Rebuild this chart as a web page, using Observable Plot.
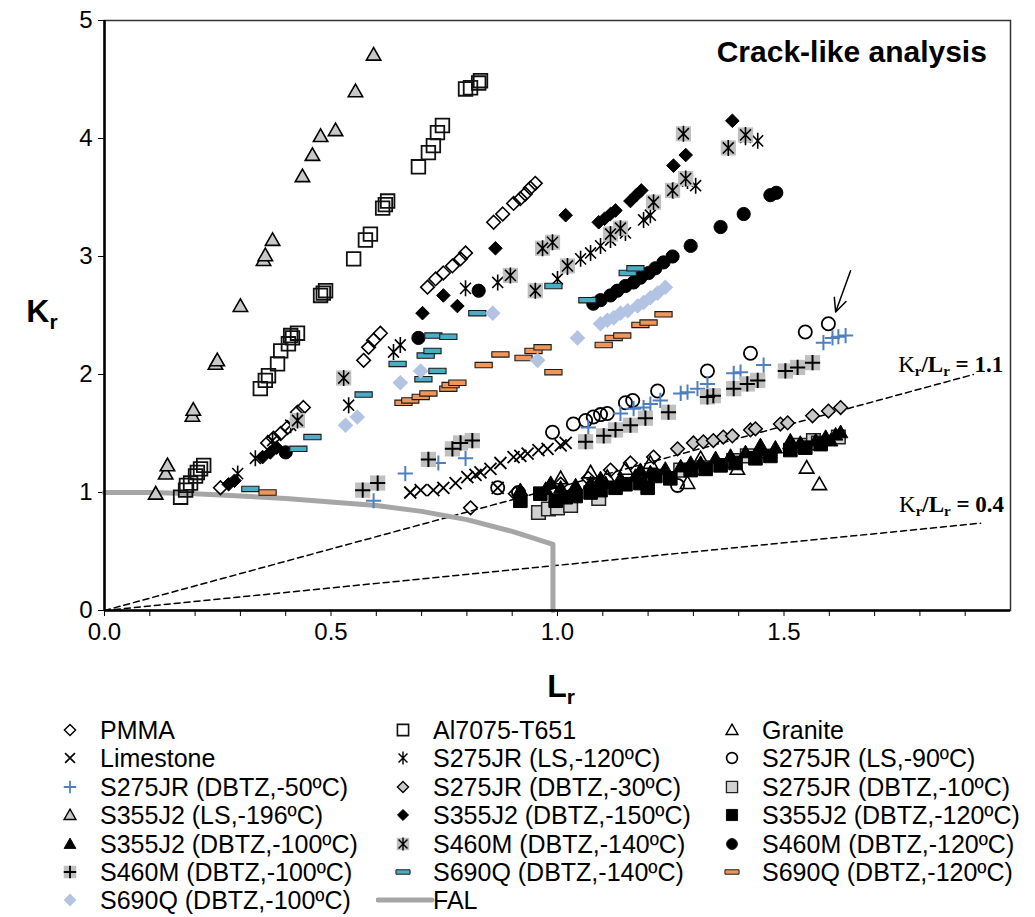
<!DOCTYPE html>
<html><head><meta charset="utf-8">
<script src="https://cdn.jsdelivr.net/npm/d3@7"></script>
<script src="https://cdn.jsdelivr.net/npm/@observablehq/plot@0.6"></script>
<style>
body{margin:0;background:#fff;font-family:"Liberation Sans",Arial,sans-serif;}
#wrap{position:relative;width:1035px;height:917px;overflow:hidden;}
#legend{position:absolute;left:0;top:710px;width:1035px;height:207px;}
.li{position:absolute;font-size:25px;line-height:28px;white-space:nowrap;color:#000;}
.ic{position:absolute;}
</style></head><body><div id="wrap"><div id="chart"></div><div id="legend"></div></div>
<script>
// ---------------- data (L_r, K_r) ----------------
const PMMA = [[0.256,1.04],[0.360,1.42],[0.373,1.46],[0.389,1.50],[0.404,1.55],[0.426,1.68],[0.439,1.72],[0.572,2.12],[0.583,2.23],[0.594,2.29],[0.609,2.35],[0.713,2.74],[0.731,2.81],[0.748,2.86],[0.768,2.92],[0.786,2.98],[0.797,3.03],[0.859,3.29],[0.879,3.36],[0.903,3.45],[0.918,3.49],[0.929,3.53],[0.940,3.58],[0.951,3.62],[0.808,0.87],[0.907,0.99],[1.007,1.07],[1.068,1.12],[1.117,1.19],[1.161,1.25],[1.212,1.30]];
const AL7075 = [[0.168,0.96],[0.179,1.02],[0.190,1.08],[0.201,1.14],[0.212,1.20],[0.219,1.23],[0.181,1.06],[0.205,1.17],[0.344,1.88],[0.355,1.95],[0.362,1.99],[0.382,2.09],[0.389,2.20],[0.406,2.26],[0.415,2.31],[0.426,2.35],[0.411,2.33],[0.477,2.67],[0.483,2.69],[0.488,2.71],[0.550,2.98],[0.576,3.14],[0.587,3.19],[0.614,3.41],[0.625,3.47],[0.620,3.44],[0.693,3.76],[0.715,3.88],[0.726,3.94],[0.735,4.05],[0.746,4.11],[0.797,4.42],[0.808,4.43],[0.826,4.47],[0.830,4.49]];
const GRANITE = [[1.007,1.12],[1.073,1.17],[1.110,1.13],[1.150,1.20],[1.205,1.25],[1.287,1.08],[1.316,1.29],[1.397,1.20],[1.448,1.34],[1.514,1.42],[1.550,1.21],[1.578,1.07]];
const LIMESTONE = [[0.675,1.00],[0.698,1.02],[0.726,1.02],[0.748,1.04],[0.775,1.08],[0.801,1.13],[0.819,1.15],[0.830,1.17],[0.852,1.20],[0.868,1.04],[0.874,1.25],[0.903,1.30],[0.918,1.31],[0.934,1.33],[0.958,1.36],[0.978,1.37],[1.007,1.40],[1.018,1.42]];
const S275_LS120 = [[0.294,1.16],[0.333,1.29],[0.371,1.44],[0.411,1.57],[0.539,1.74],[0.638,2.19],[0.653,2.25],[0.797,2.73],[0.868,2.78],[1.000,2.81],[1.022,2.91],[1.051,2.98],[1.073,3.03],[1.095,3.09],[1.117,3.14],[1.150,3.20],[1.190,3.31],[1.205,3.35],[1.256,3.56],[1.287,3.64],[1.305,3.60],[1.415,4.01],[1.442,3.98]];
const S275_LS90 = [[0.868,1.04],[0.914,1.00],[0.989,1.51],[1.035,1.58],[1.062,1.61],[1.079,1.64],[1.091,1.00],[1.095,1.66],[1.110,1.67],[1.150,1.76],[1.166,1.78],[1.221,1.86],[1.265,1.06],[1.331,2.03],[1.426,2.18],[1.547,2.36],[1.598,2.43]];
const S275_D50 = [[0.594,0.93],[0.664,1.16],[0.737,1.25],[0.797,1.29],[1.068,1.55],[1.139,1.67],[1.168,1.71],[1.190,1.72],[1.205,1.75],[1.227,1.78],[1.272,1.84],[1.287,1.85],[1.309,1.88],[1.331,1.92],[1.389,2.01],[1.404,2.02],[1.455,2.08],[1.587,2.27],[1.607,2.31],[1.620,2.32],[1.636,2.33]];
const S275_D30 = [[1.265,1.37],[1.300,1.42],[1.322,1.43],[1.344,1.44],[1.366,1.47],[1.386,1.48],[1.426,1.53],[1.437,1.54],[1.492,1.58],[1.508,1.59],[1.563,1.65],[1.598,1.69],[1.625,1.72]];
const S275_D10 = [[0.958,0.83],[0.980,0.86],[1.000,0.87],[1.029,0.89],[1.091,0.95],[1.272,1.19],[1.320,1.21],[1.389,1.27],[1.419,1.31],[1.536,1.40],[1.565,1.44],[1.576,1.42],[1.620,1.47]];
const S355_LS196 = [[0.113,0.99],[0.135,1.16],[0.139,1.23],[0.194,1.65],[0.196,1.70],[0.245,2.09],[0.249,2.12],[0.300,2.58],[0.351,2.97],[0.355,3.01],[0.371,3.14],[0.437,3.68],[0.459,3.86],[0.477,4.02],[0.510,4.07],[0.554,4.40],[0.594,4.71]];
const S355_D150 = [[0.274,1.07],[0.287,1.10],[0.349,1.30],[0.366,1.34],[0.380,1.38],[0.702,2.52],[0.748,2.67],[0.779,2.58],[0.863,3.07],[1.018,3.35],[1.091,3.29],[1.104,3.32],[1.117,3.36],[1.128,3.39],[1.161,3.47],[1.174,3.52],[1.185,3.56],[1.256,3.77],[1.283,3.86],[1.386,4.15]];
const S355_D120 = [[0.918,0.93],[0.962,0.99],[0.996,0.93],[1.018,0.96],[1.040,0.97],[1.073,1.00],[1.095,1.02],[1.128,1.04],[1.150,1.07],[1.183,1.08],[1.199,1.04],[1.216,1.14],[1.249,1.12],[1.294,1.19],[1.327,1.20],[1.360,1.23],[1.393,1.25],[1.437,1.29],[1.470,1.31],[1.514,1.36],[1.547,1.38],[1.581,1.41]];
const S355_D100 = [[0.918,1.02],[0.974,1.03],[0.985,1.08],[1.007,1.04],[1.040,1.06],[1.073,1.08],[1.095,1.12],[1.106,1.08],[1.139,1.12],[1.172,1.14],[1.183,1.19],[1.205,1.17],[1.238,1.20],[1.272,1.22],[1.294,1.25],[1.316,1.25],[1.349,1.29],[1.382,1.31],[1.415,1.34],[1.448,1.36],[1.448,1.40],[1.481,1.38],[1.514,1.40],[1.514,1.44],[1.536,1.42],[1.570,1.44],[1.592,1.47],[1.603,1.44],[1.614,1.49],[1.625,1.51]];
const S460_D140 = [[0.426,1.61],[0.528,1.97],[0.896,2.84],[0.951,2.71],[0.967,3.07],[0.989,3.12],[1.022,2.92],[1.117,3.19],[1.139,3.24],[1.212,3.46],[1.254,3.56],[1.283,3.66],[1.278,4.04],[1.377,3.92],[1.415,4.03]];
const S460_D120 = [[0.400,1.34],[0.693,2.31],[0.826,2.71],[1.079,2.60],[1.095,2.63],[1.117,2.67],[1.132,2.71],[1.150,2.75],[1.168,2.78],[1.183,2.82],[1.201,2.86],[1.216,2.90],[1.234,2.95],[1.254,3.00],[1.294,3.09],[1.360,3.25],[1.411,3.36],[1.470,3.52],[1.483,3.54]];
const S460_D100 = [[0.570,1.02],[0.603,1.08],[0.715,1.28],[0.768,1.37],[0.786,1.42],[0.812,1.44],[1.062,1.43],[1.102,1.48],[1.128,1.53],[1.161,1.57],[1.194,1.63],[1.245,1.68],[1.331,1.81],[1.344,1.82],[1.389,1.88],[1.419,1.92],[1.442,1.95],[1.503,2.03],[1.530,2.06],[1.563,2.10]];
const S690_D140 = [[0.322,1.03],[0.428,1.37],[0.459,1.47],[0.572,1.83],[0.647,2.09],[0.704,1.96],[0.709,2.16],[0.724,2.20],[0.735,2.03],[0.726,2.33],[0.759,2.32],[0.823,2.52],[0.991,2.75],[1.066,2.63],[1.155,2.86],[1.172,2.90]];
const S690_D120 = [[0.360,1.00],[0.660,1.76],[0.675,1.78],[0.698,1.81],[0.715,1.84],[0.759,1.88],[0.764,1.91],[0.779,1.93],[0.837,2.08],[0.874,2.17],[0.925,2.14],[0.947,2.20],[0.967,2.23],[0.991,2.02],[1.102,2.25],[1.124,2.31],[1.143,2.33],[1.183,2.42],[1.201,2.44],[1.234,2.51]];
const S690_D100 = [[0.532,1.57],[0.558,1.64],[0.653,1.93],[0.698,2.03],[0.857,2.52],[0.956,2.12],[1.044,2.31],[1.095,2.43],[1.110,2.46],[1.124,2.48],[1.139,2.52],[1.155,2.54],[1.177,2.58],[1.190,2.61],[1.205,2.65],[1.221,2.69],[1.238,2.74]];
// Failure assessment line
const falL = [0, 0.1, 0.2, 0.3, 0.4, 0.5, 0.6, 0.7, 0.8, 0.9, 0.99, 0.99];
const falK = [1.00, 1.00, 0.99, 0.97, 0.95, 0.92, 0.89, 0.84, 0.77, 0.67, 0.56, 0];
// reference ratio lines Kr/Lr
const ratioHigh = [[0, 0], [1.918, 2.00]];
const ratioLow = [[0, 0], [1.934, 0.74]];
const ratioLabels = [{text: "1.1", L: 1.985, K: 2.02}, {text: "0.4", L: 1.987, K: 0.83}];
const arrowData = [{x1: 1.647, y1: 2.88, x2: 1.614, y2: 2.53}];
const titleText = "Crack-like analysis";
const titleAnchor = {L: 1.949, K: 4.64};
// axes
const xTicks = [0, 0.1, 0.2, 0.3, 0.4, 0.5, 0.6, 0.7, 0.8, 0.9, 1.0, 1.1, 1.2, 1.3, 1.4, 1.5, 1.6, 1.7, 1.8, 1.9];
const xTickLabels = ["0.0", "0.5", "1.0", "1.5"];
const yTicks = [0, 1, 2, 3, 4, 5];

// ---------------- symbols ----------------
function makeSymbols(k) {
  return {
    square: {draw(c){const h=6.8*k; c.moveTo(-h,-h); c.lineTo(h,-h); c.lineTo(h,h); c.lineTo(-h,h); c.closePath();}},
    bgsquare: {draw(c){const h=7.6*k; c.moveTo(-h,-h); c.lineTo(h,-h); c.lineTo(h,h); c.lineTo(-h,h); c.closePath();}},
    triangle: {draw(c){const s=7.2*k; c.moveTo(0,-s); c.lineTo(s,s*0.75); c.lineTo(-s,s*0.75); c.closePath();}},
    diamond: {draw(c){const r=6.8*k; c.moveTo(0,-r); c.lineTo(r,0); c.lineTo(0,r); c.lineTo(-r,0); c.closePath();}},
    bigdiamond: {draw(c){const r=7.8*k; c.moveTo(0,-r); c.lineTo(r,0); c.lineTo(0,r); c.lineTo(-r,0); c.closePath();}},
    circle: {draw(c){const r=6.6*k; c.moveTo(r,0); c.arc(0,0,r,0,2*Math.PI); c.closePath();}},
    plus: {draw(c){const r=7.6*k; c.moveTo(-r,0); c.lineTo(r,0); c.moveTo(0,-r); c.lineTo(0,r);}},
    times: {draw(c){const r=6*k; c.moveTo(-r,-r); c.lineTo(r,r); c.moveTo(-r,r); c.lineTo(r,-r);}},
    asterisk: {draw(c){const r=8*k, a=r*0.68, b=r*0.7; c.moveTo(0,-r); c.lineTo(0,r); c.moveTo(-a,-b); c.lineTo(a,b); c.moveTo(-a,b); c.lineTo(a,-b);}},
    dash: {draw(c){const w=8.6*k, h=2.7*k; c.moveTo(-w,-h); c.lineTo(w,-h); c.lineTo(w,h); c.lineTo(-w,h); c.closePath();}}
  };
}
const SYM = makeSymbols(1);
const LSYM = makeSymbols(0.82);

const series = [
  {name: "PMMA", data: PMMA, layers: [{s: "diamond", fill: "none", stroke: "#000", sw: 1.6}]},
  {name: "Al7075-T651", data: AL7075, layers: [{s: "square", fill: "none", stroke: "#111", sw: 1.8}]},
  {name: "Granite", data: GRANITE, layers: [{s: "triangle", fill: "none", stroke: "#000", sw: 1.6}]},
  {name: "Limestone", data: LIMESTONE, layers: [{s: "times", fill: "none", stroke: "#000", sw: 1.8}]},
  {name: "S275JR (LS,-120ºC)", data: S275_LS120, layers: [{s: "asterisk", fill: "none", stroke: "#000", sw: 1.6}]},
  {name: "S275JR (LS,-90ºC)", data: S275_LS90, layers: [{s: "circle", fill: "none", stroke: "#000", sw: 1.8}]},
  {name: "S275JR (DBTZ,-50ºC)", data: S275_D50, layers: [{s: "plus", fill: "none", stroke: "#4f7fbf", sw: 2}]},
  {name: "S275JR (DBTZ,-30ºC)", data: S275_D30, layers: [{s: "diamond", fill: "#c8c8c8", stroke: "#000", sw: 1.5}]},
  {name: "S275JR (DBTZ,-10ºC)", data: S275_D10, layers: [{s: "square", fill: "#d2d2d2", stroke: "#222", sw: 1.5}]},
  {name: "S355J2 (LS,-196ºC)", data: S355_LS196, layers: [{s: "triangle", fill: "#c8c8c8", stroke: "#000", sw: 1.6}]},
  {name: "S355J2 (DBTZ,-150ºC)", data: S355_D150, layers: [{s: "diamond", fill: "#000", stroke: "#000", sw: 1}]},
  {name: "S355J2 (DBTZ,-120ºC)", data: S355_D120, layers: [{s: "square", fill: "#000", stroke: "#000", sw: 1}]},
  {name: "S355J2 (DBTZ,-100ºC)", data: S355_D100, layers: [{s: "triangle", fill: "#000", stroke: "#000", sw: 1}]},
  {name: "S460M (DBTZ,-140ºC)", data: S460_D140, layers: [{s: "bgsquare", fill: "#c0c0c0", stroke: "none", sw: 0}, {s: "asterisk", fill: "none", stroke: "#000", sw: 1.6}]},
  {name: "S460M (DBTZ,-120ºC)", data: S460_D120, layers: [{s: "circle", fill: "#000", stroke: "#000", sw: 1}]},
  {name: "S460M (DBTZ,-100ºC)", data: S460_D100, layers: [{s: "bgsquare", fill: "#c0c0c0", stroke: "none", sw: 0}, {s: "plus", fill: "none", stroke: "#000", sw: 2}]},
  {name: "S690Q (DBTZ,-140ºC)", data: S690_D140, layers: [{s: "dash", fill: "#4bacc6", stroke: "#1a1a1a", sw: 1.1}]},
  {name: "S690Q (DBTZ,-120ºC)", data: S690_D120, layers: [{s: "dash", fill: "#f0965a", stroke: "#1a1a1a", sw: 1.1}]},
  {name: "S690Q (DBTZ,-100ºC)", data: S690_D100, layers: [{s: "bigdiamond", fill: "#b3c3e3", stroke: "none", sw: 0}]}
];

const falData = falL.map((l, i) => [l, falK[i]]);

const marks = [
  Plot.line(ratioHigh, {x: d => d[0], y: d => d[1], stroke: "#000", strokeWidth: 1.5, strokeDasharray: "6,4"}),
  Plot.line(ratioLow, {x: d => d[0], y: d => d[1], stroke: "#000", strokeWidth: 1.5, strokeDasharray: "6,4"}),
  Plot.line(falData, {x: d => d[0], y: d => d[1], stroke: "#a6a6a6", strokeWidth: 5})
];
for (const sr of series) {
  for (const ly of sr.layers) {
    marks.push(Plot.dot(sr.data, {x: d => d[0], y: d => d[1], r: 5, symbol: SYM[ly.s], fill: ly.fill, stroke: ly.stroke, strokeWidth: ly.sw}));
  }
}
marks.push(Plot.arrow(arrowData, {x1: "x1", y1: "y1", x2: "x2", y2: "y2", stroke: "#000", strokeWidth: 1.5, headLength: 16, headAngle: 50}));
marks.push(Plot.frame({stroke: "#333", strokeWidth: 1.5}));
marks.push(Plot.ruleX([0], {stroke: "#000", strokeWidth: 2.5}));
marks.push(Plot.ruleY([0], {stroke: "#000", strokeWidth: 2.5}));

const chart = Plot.plot({
  width: 1035, height: 710,
  marginLeft: 104, marginRight: 25, marginTop: 20, marginBottom: 100,
  style: {fontFamily: '"Liberation Sans", Arial, sans-serif', fontSize: "24px", color: "#000", background: "#fff"},
  x: {domain: [0, 2], ticks: xTicks, tickFormat: d => { const s = (+d).toFixed(1); return xTickLabels.includes(s) ? s : ""; }, tickSize: 6, tickPadding: 6, label: null},
  y: {domain: [0, 5], ticks: yTicks, tickFormat: d => String(d), tickSize: 6, tickPadding: 6, label: null},
  marks
});
document.getElementById("chart").appendChild(chart);

// annotations using the plot scales
const sx = chart.scale("x"), sy = chart.scale("y");
const svg = d3.select(chart);
svg.append("text").attr("x", sx.apply(titleAnchor.L)).attr("y", sy.apply(titleAnchor.K))
  .attr("text-anchor", "end").attr("font-size", 30).attr("font-weight", "bold")
  .attr("font-family", '"Liberation Sans", Arial, sans-serif').attr("fill", "#000").text(titleText);
for (const lb of ratioLabels) {
  const t = svg.append("text").attr("x", sx.apply(lb.L)).attr("y", sy.apply(lb.K))
    .attr("text-anchor", "end").attr("font-family", '"Liberation Serif","Times New Roman",serif')
    .attr("font-size", 23).attr("font-weight", "bold").attr("fill", "#000");
  t.append("tspan").attr("font-weight", "normal").text("K");
  t.append("tspan").attr("font-size", 15).attr("dy", 4).text("r");
  t.append("tspan").attr("dy", -4).text("/L");
  t.append("tspan").attr("font-size", 15).attr("dy", 4).text("r");
  t.append("tspan").attr("dy", -4).text(" = " + lb.text);
}
// axis titles
const yt = svg.append("text").attr("x", 42).attr("y", 322).attr("text-anchor", "middle")
  .attr("font-size", 32).attr("font-weight", "bold").attr("fill", "#000");
yt.append("tspan").text("K");
yt.append("tspan").attr("font-size", 21).attr("dy", 7).text("r");
const xt = svg.append("text").attr("x", 561).attr("y", 697).attr("text-anchor", "middle")
  .attr("font-size", 32).attr("font-weight", "bold").attr("fill", "#000");
xt.append("tspan").text("L");
xt.append("tspan").attr("font-size", 21).attr("dy", 7).text("r");

// ---------------- legend ----------------
const legendCols = [{sym: 70, text: 100}, {sym: 403, text: 433}, {sym: 732, text: 762}];
const legend = d3.select("#legend");
const items = series.map(s => ({name: s.name, layers: s.layers})).concat([{name: "FAL", fal: true}]);
items.forEach((it, i) => {
  const row = Math.floor(i / 3), col = i % 3;
  const cy = 20 + 28.4 * row;
  const c = legendCols[col];
  if (it.fal) {
    const sv = legend.append("svg").attr("class", "ic").attr("width", 60).attr("height", 12)
      .style("left", (c.sym - 27) + "px").style("top", (cy - 6) + "px");
    sv.append("line").attr("x1", 2).attr("x2", 56).attr("y1", 6).attr("y2", 6)
      .attr("stroke", "#a6a6a6").attr("stroke-width", 5).attr("stroke-linecap", "round");
  } else {
    const sv = legend.append("svg").attr("class", "ic").attr("width", 24).attr("height", 24)
      .style("left", (c.sym - 12) + "px").style("top", (cy - 12) + "px");
    for (const ly of it.layers) {
      sv.append("path").attr("transform", "translate(12,12)")
        .attr("d", d3.symbol().type(LSYM[ly.s])())
        .attr("fill", ly.fill).attr("stroke", ly.stroke).attr("stroke-width", ly.sw * 0.9);
    }
  }
  legend.append("div").attr("class", "li").style("left", c.text + "px").style("top", (cy - 14) + "px").text(it.name);
});
</script>
</body></html>
